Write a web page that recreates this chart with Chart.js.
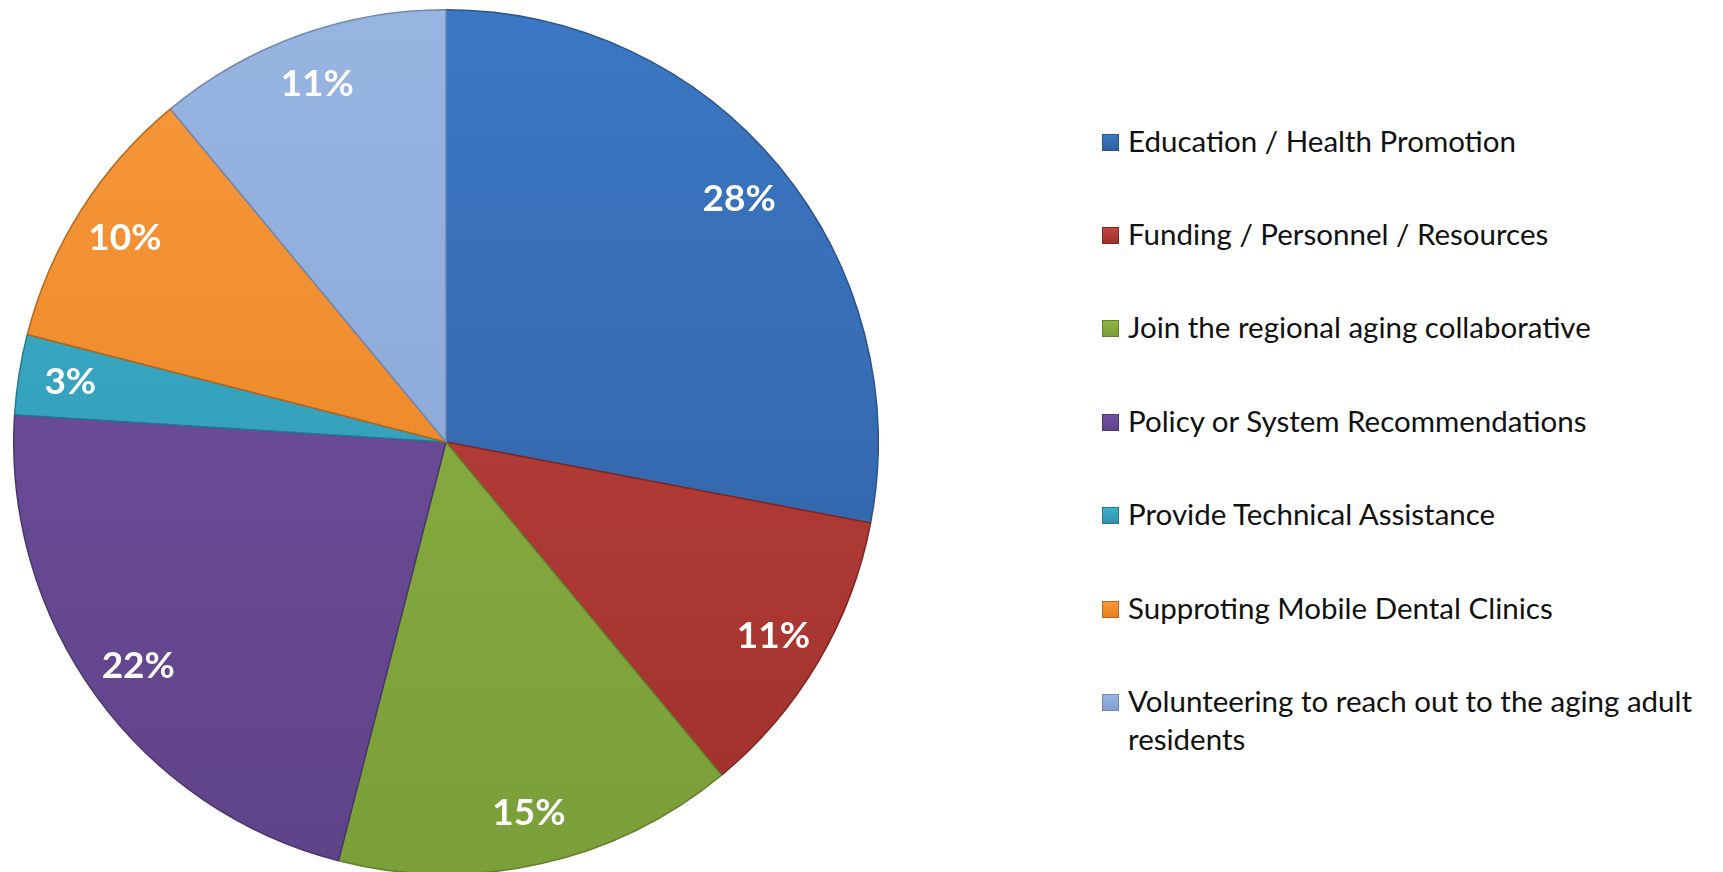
<!DOCTYPE html>
<html>
<head>
<meta charset="utf-8">
<script src="https://cdn.jsdelivr.net/npm/chart.js@4/dist/chart.umd.min.js"></script>
<style>
  html, body { margin: 0; padding: 0; background: #fff; overflow: hidden; }
  body { width: 1723px; height: 872px; position: relative; font-family: Lato, "Open Sans", sans-serif; }
  #pieBox { position: absolute; left: 13px; top: 9px; width: 866px; height: 866px; }
  #legend { position: absolute; left: 1100px; top: 0; width: 620px; }
  .item { position: absolute; left: 0; display: flex; align-items: flex-start; font-size: 29.5px; line-height: 38px; color: #111; }
  .swatch { width: 15px; height: 15px; margin: 12px 9px 0 2px; flex: none; }
  .txt { width: 590px; }
</style>
</head>
<body>
<div id="pieBox"><canvas id="pieChart"></canvas></div>
<div id="legend"></div>
<script>
  // categories and values (percent)
  const categories = [
    'Education / Health Promotion',
    'Funding / Personnel / Resources',
    'Join the regional aging collaborative',
    'Policy or System Recommendations',
    'Provide Technical Assistance',
    'Supproting Mobile Dental Clinics',
    'Volunteering to reach out to the aging adult residents'
  ];
  const shares = [28, 11, 15, 22, 3, 10, 11];

  // light (top) and dark (bottom) shade for each slice
  const topColors = ['#3b77c3', '#c4463f', '#8db343', '#7352a2', '#3cb0cc', '#f7993b', '#98b5e2'];
  const bottomColors = ['#315fa0', '#9e302c', '#7b9f39', '#5f4388', '#2f93ad', '#e57e1f', '#859fd0'];
  const edgeColors = ['#2a538b', '#822622', '#647f2d', '#4c356e', '#267a8f', '#b9661a', '#6f88b5'];

  // legend built from the same arrays
  const legendRows = [141, 234, 327, 421, 514, 608, 701];
  const legend = document.getElementById('legend');
  categories.forEach(function (name, i) {
    const row = document.createElement('div');
    row.className = 'item';
    row.style.top = (legendRows[i] - 19) + 'px';
    row.innerHTML = '<span class="swatch" style="background:linear-gradient(' + topColors[i] + ',' + bottomColors[i] + ');border:1px solid ' + edgeColors[i] + '"></span><span class="txt">' + name + '</span>';
    legend.appendChild(row);
  });

  // percent labels drawn on each slice
  const sliceLabels = {
    id: 'sliceLabels',
    afterDatasetsDraw: function (chart) {
      const ctx = chart.ctx;
      const meta = chart.getDatasetMeta(0);
      ctx.save();
      ctx.font = 'bold 37px Lato, "Open Sans", sans-serif';
      ctx.fillStyle = '#fff';
      ctx.textAlign = 'center';
      ctx.textBaseline = 'middle';
      meta.data.forEach(function (arc, i) {
        const p = arc.getProps(['x', 'y', 'startAngle', 'endAngle', 'outerRadius'], true);
        const mid = (p.startAngle + p.endAngle) / 2;
        const r = p.outerRadius * 0.88;
        ctx.fillText(shares[i] + '%', p.x + Math.cos(mid) * r, p.y + Math.sin(mid) * r);
      });
      ctx.restore();
    }
  };

  new Chart(document.getElementById('pieChart'), {
    type: 'pie',
    data: {
      labels: categories,
      datasets: [{
        data: shares,
        backgroundColor: function (c) {
          const area = c.chart.chartArea;
          if (!area) return topColors[c.dataIndex];
          const g = c.chart.ctx.createLinearGradient(0, area.top, 0, area.bottom);
          g.addColorStop(0, topColors[c.dataIndex]);
          g.addColorStop(1, bottomColors[c.dataIndex]);
          return g;
        },
        borderColor: edgeColors,
        borderWidth: 1.5
      }]
    },
    options: {
      responsive: true,
      maintainAspectRatio: false,
      animation: false,
      layout: { padding: 0 },
      plugins: {
        legend: { display: false },
        tooltip: { enabled: false }
      }
    },
    plugins: [sliceLabels]
  });
</script>
</body>
</html>
